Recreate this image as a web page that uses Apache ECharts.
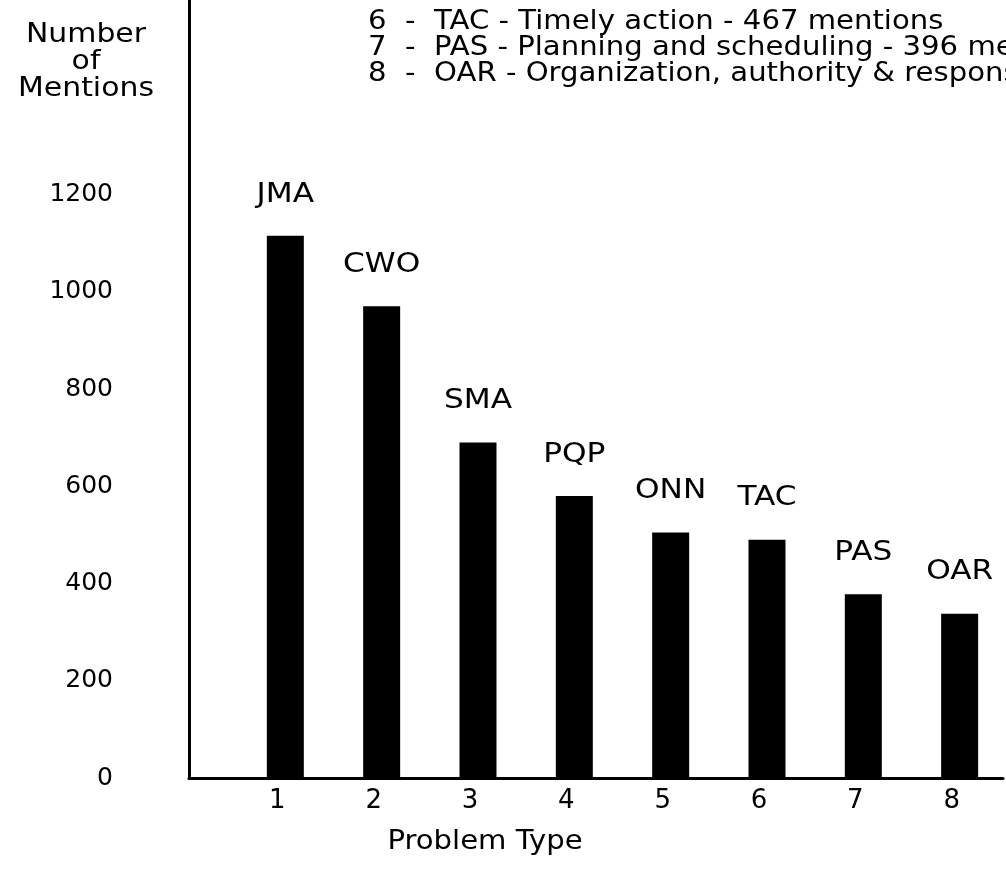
<!DOCTYPE html>
<html>
<head>
<meta charset="utf-8">
<script src="https://cdn.jsdelivr.net/npm/echarts@6/dist/echarts.min.js"></script>
<style>
  html, body { margin: 0; padding: 0; background: #fff; }
  #chart { width: 1006px; height: 873px; }
</style>
</head>
<body>
<div id="chart"></div>
<script>
// ---- data ----
const problemNumbers = [1, 2, 3, 4, 5, 6, 7, 8];
const problemCodes = ['JMA', 'CWO', 'SMA', 'PQP', 'ONN', 'TAC', 'PAS', 'OAR'];
const mentions = [1115, 970, 690, 580, 505, 490, 378, 338];
const yTicks = [0, 200, 400, 600, 800, 1000, 1200];
const legendLines = [
  '6  -  TAC - Timely action - 467 mentions',
  '7  -  PAS - Planning and scheduling - 396 mentions',
  '8  -  OAR - Organization, authority & responsibility'
];
const yTitleLines = ['Number', 'of', 'Mentions'];
const xTitle = 'Problem Type';

const FONT = 'DejaVu Sans';
const chart = echarts.init(document.getElementById('chart'), null, { renderer: 'canvas' });

const barData = problemNumbers.map((n, i) => [n, mentions[i]]);

const graphics = [];
legendLines.forEach((t, i) => {
  graphics.push({
    type: 'text', x: 368, y: 22 + i * 26, scaleX: 1.12,
    style: { text: t, fontFamily: FONT, fontSize: 26, fill: '#000', textAlign: 'left', textVerticalAlign: 'middle' }
  });
});
yTitleLines.forEach((t, i) => {
  graphics.push({
    type: 'text', x: 86, y: 35 + i * 27, scaleX: 1.15,
    style: { text: t, fontFamily: FONT, fontSize: 26, fill: '#000', textAlign: 'center', textVerticalAlign: 'middle' }
  });
});
graphics.push({
  type: 'text', x: 485, y: 842, scaleX: 1.12,
  style: { text: xTitle, fontFamily: FONT, fontSize: 26, fill: '#000', textAlign: 'center', textVerticalAlign: 'middle' }
});

chart.setOption({
  backgroundColor: '#fff',
  animation: false,
  grid: { left: 189, top: 0, right: 0, height: 778, containLabel: false },
  xAxis: {
    type: 'value', min: 0, max: 8.45, interval: 1,
    axisLine: { show: true, onZero: false, lineStyle: { color: '#000', width: 3 } },
    axisTick: { show: false },
    splitLine: { show: false },
    axisLabel: {
      color: '#000', fontFamily: FONT, fontSize: 26, margin: 10, padding: [0, 16, 0, 0],
      formatter: v => (problemNumbers.indexOf(v) >= 0 ? String(v) : '')
    }
  },
  yAxis: {
    type: 'value', min: 0, max: 1600, interval: 200,
    axisLine: { show: true, lineStyle: { color: '#000', width: 3 } },
    axisTick: { show: false },
    splitLine: { show: false },
    axisLabel: {
      color: '#000', fontFamily: FONT, fontSize: 25, margin: 76,
      formatter: v => (yTicks.indexOf(v) >= 0 ? String(v) : '')
    }
  },
  series: [
    {
      type: 'bar', data: barData, barWidth: 37,
      itemStyle: { color: '#000' }
    },
    {
      type: 'custom', data: barData, silent: true, z: 5,
      renderItem: (params, api) => {
        const p = api.coord([api.value(0), api.value(1)]);
        return {
          type: 'text', x: p[0], y: p[1] - 28, scaleX: 1.2,
          style: {
            text: problemCodes[params.dataIndex], fontFamily: FONT, fontSize: 26, fill: '#000',
            textAlign: 'center', textVerticalAlign: 'bottom'
          }
        };
      }
    }
  ],
  graphic: graphics
});
</script>
</body>
</html>
